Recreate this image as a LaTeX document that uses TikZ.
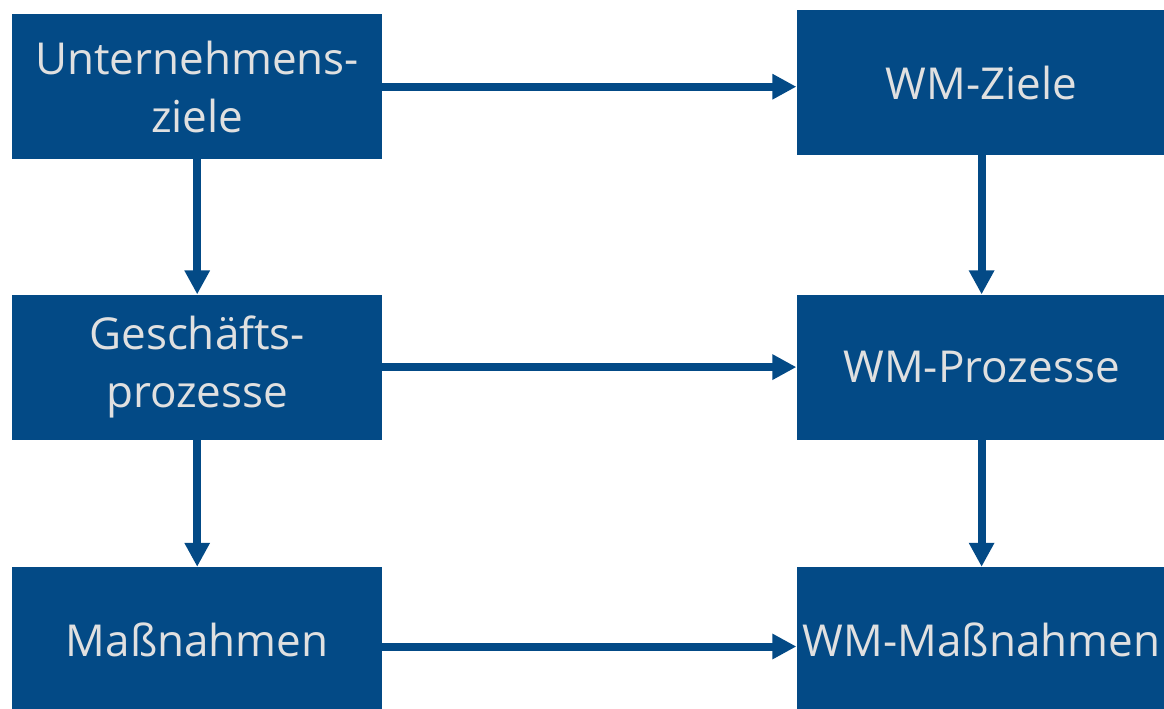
\documentclass[tikz,border=0pt]{standalone}
\usepackage{fontspec}
\setmainfont{Open Sans}
\usetikzlibrary{arrows.meta, positioning}
\definecolor{WMBlue}{HTML}{034A86}
\definecolor{WMText}{HTML}{E0E0E0}

\begin{document}
\begin{tikzpicture}[x=1pt, y=-1pt, >={Triangle[length=24pt, width=24pt]},
        node distance=135pt and 414pt,
        block/.style={rectangle, fill=WMBlue, text=WMText, align=center, inner sep=0pt, minimum width=370pt, minimum height=145pt, font=\fontsize{44}{58}\selectfont},
        arrow/.style={->, line width=8pt, WMBlue}]

        \useasboundingbox (0,0) rectangle (1164,709);

        \node[block, anchor=north west] (uz) at (12,14) {Unternehmens-\\ziele};
        \node[block, below=of uz] (gp) {Geschäfts-\\prozesse};
        \node[block, below=127pt of gp] (mn) {Maßnahmen};

        \node[block, right=of uz, yshift=4pt] (wz) {WM-Ziele};
        \node[block, right=of gp] (wp) {WM-Prozesse};
        \node[block, right=of mn] (wm) {WM-Maßnahmen};

        \draw[arrow] (uz) -- (gp);
        \draw[arrow] (gp) -- (mn);
        \draw[arrow] (wz) -- (wp);
        \draw[arrow] (wp) -- (wm);

        \draw[arrow] (uz.east) -- (uz.east -| wz.west);
        \draw[arrow] (gp.east) -- (wp.west);
        \draw[arrow] ([yshift=-7pt]mn.east) -- ([yshift=-7pt]mn.east -| wm.west);
    \end{tikzpicture}
\end{document}
